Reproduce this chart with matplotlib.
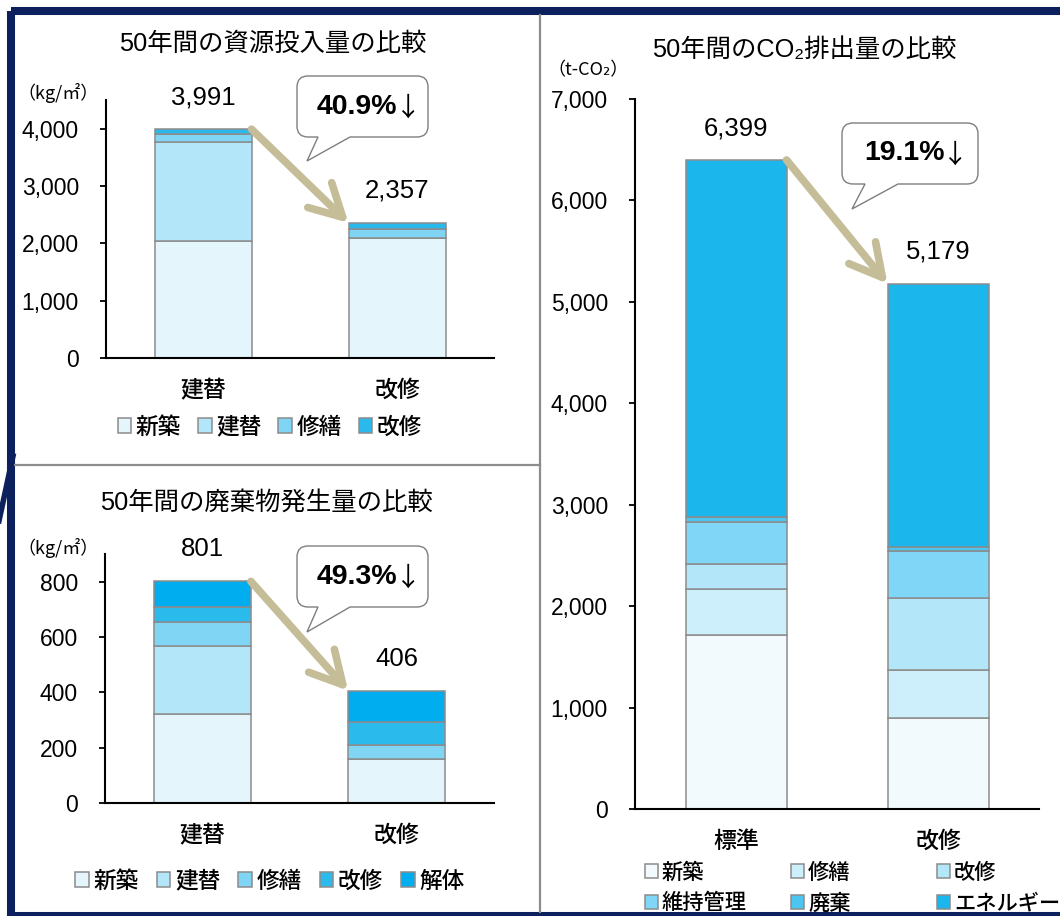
import matplotlib
matplotlib.use("Agg")
import matplotlib.pyplot as plt
import numpy as np
from matplotlib.path import Path
from matplotlib.patches import PathPatch, Rectangle
from matplotlib.transforms import Affine2D
from matplotlib.lines import Line2D
from matplotlib.text import Annotation

plt.rcParams['font.family'] = ['Liberation Sans', 'Noto Sans CJK JP', 'DejaVu Sans']

W, H = 1060, 916

# ---- 50年間の資源投入量 (kg/㎡) ----
res_groups = ['建替', '改修']
res_series = ['新築', '建替', '修繕', '改修']
res_shinchiku = [2035, 2100]
res_tatekae = [1725, 0]
res_shuzen = [150, 155]
res_kaishu = [81, 102]
res_colors = ['#E4F5FC', '#B3E6F8', '#80D5F5', '#2BB9EB']
res_yticks = [0, 1000, 2000, 3000, 4000]

# ---- 50年間の廃棄物発生量 (kg/㎡) ----
waste_groups = ['建替', '改修']
waste_series = ['新築', '建替', '修繕', '改修', '解体']
waste_shinchiku = [320, 159]
waste_tatekae = [246, 0]
waste_shuzen = [90, 50]
waste_kaishu = [53, 82]
waste_kaitai = [92, 115]
waste_colors = ['#E4F5FC', '#B3E6F8', '#80D5F5', '#2BBAEC', '#00AEEF']
waste_yticks = [0, 200, 400, 600, 800]

# ---- 50年間のCO2排出量 (t-CO2) ----
co2_groups = ['標準', '改修']
co2_series = ['新築', '修繕', '改修', '維持管理', '廃棄', 'エネルギー']
co2_shinchiku = [1713, 894]
co2_shuzen = [457, 481]
co2_kaishu = [246, 706]
co2_iji = [414, 460]
co2_haiki = [47, 40]
co2_energy = [3522, 2598]
co2_colors = ['#F2FAFD', '#CCEFFB', '#B3E6F8', '#80D6F6', '#4CC6F0', '#1BB7EC']
co2_yticks = [0, 1000, 2000, 3000, 4000, 5000, 6000, 7000]

EDGE = '#8C8C8C'
ARROW = '#C4BD97'
NAVY = '#0C205E'
JP = ['Noto Sans CJK JP', 'DejaVu Sans']

fig = plt.figure(figsize=(W / 100, H / 100), dpi=100)
fig.patch.set_facecolor('white')

# pixel (x right, y down) -> figure
pix = Affine2D().scale(1 / W, -1 / H).translate(0, 1) + fig.transFigure


def add_axes_px(left, top, right, bottom):
    return fig.add_axes([left / W, 1 - bottom / H, (right - left) / W, (bottom - top) / H])


def stacked(ax, groups, names, series, colors, ymax, yticks):
    x = np.arange(len(groups))
    bottom = np.zeros(len(groups))
    handles = []
    for name, vals, col in zip(names, series, colors):
        vals = np.asarray(vals, dtype=float)
        bc = ax.bar(x, vals, 0.5, bottom=bottom, color=col, edgecolor=EDGE,
                    linewidth=1.1, label=name, zorder=2)
        handles.append(bc)
        bottom = bottom + vals
    ax.set_xlim(-0.5, 1.5)
    ax.set_ylim(0, ymax)
    ax.set_yticks(yticks)
    ax.set_yticklabels([f'{t:,}' for t in yticks])
    ax.set_xticks(x)
    ax.set_xticklabels(groups)
    for s in ('top', 'right'):
        ax.spines[s].set_visible(False)
    for s in ('left', 'bottom'):
        ax.spines[s].set_linewidth(1.5)
        ax.spines[s].set_color('black')
    ax.tick_params(axis='y', length=4.5, width=1.3, direction='out', pad=15,
                   labelsize=16.5)
    ax.tick_params(axis='x', length=0, pad=15, labelsize=16.5)
    for lab in ax.get_xticklabels():
        lab.set_family(JP)
        lab.set_fontweight('medium')
    # totals above bars and the reduction arrow
    for i, tot in enumerate(bottom):
        ax.annotate(f'{int(round(tot)):,}', xy=(i, tot), xytext=(0, 23),
                    textcoords='offset points', ha='center', va='center',
                    fontsize=18.5)
    ax.annotate('', xy=(0.75, bottom[1]), xytext=(0.25, bottom[0]),
                arrowprops=dict(arrowstyle='->,head_length=1.15,head_width=0.62',
                                color=ARROW, lw=5.5, mutation_scale=20,
                                shrinkA=0, shrinkB=0), zorder=5)
    return handles, bottom


def bubble(x0, y0, x1, y1, bx0, bx1, tip, pct):
    r = 11
    tx, ty = tip
    verts = [(x0 + r, y0), (x1 - r, y0), (x1, y0), (x1, y0 + r), (x1, y1 - r),
             (x1, y1), (x1 - r, y1), (bx1, y1), (tx, ty), (bx0, y1), (x0 + r, y1),
             (x0, y1), (x0, y1 - r), (x0, y0 + r), (x0, y0), (x0 + r, y0), (0, 0)]
    codes = [Path.MOVETO, Path.LINETO, Path.CURVE3, Path.CURVE3, Path.LINETO,
             Path.CURVE3, Path.CURVE3, Path.LINETO, Path.LINETO, Path.LINETO,
             Path.LINETO, Path.CURVE3, Path.CURVE3, Path.LINETO, Path.CURVE3,
             Path.CURVE3, Path.CLOSEPOLY]
    patch = PathPatch(Path(verts, codes), facecolor='white', edgecolor='#7F7F7F',
                      linewidth=1.0, transform=pix, zorder=10)
    fig.add_artist(patch)
    cx, cy = (x0 + x1) / 2 - 6, (y0 + y1) / 2
    t = fig.text(cx, cy, f'{pct:.1f}%', transform=pix, ha='center', va='center',
                 fontsize=20.5, fontweight='bold', zorder=11)
    fig.add_artist(Annotation(
        '↓', xy=(1.0, 0.45), xycoords=t, xytext=(-1.5, 0), textcoords='offset points',
        ha='left', va='center', fontsize=19, zorder=11, family=JP))


def legend_px(handles, x, y, loc, ncol, size, **kw):
    return fig.legend(handles=handles, loc=loc, bbox_to_anchor=(x / W, 1 - y / H),
                      ncol=ncol, frameon=False, handlelength=0.6,
                      handleheight=0.6, handletextpad=0.2, borderpad=0,
                      borderaxespad=0,
                      prop={'family': JP, 'size': size, 'weight': 'medium'}, **kw)


# ---------- chart 1 ----------
ax1 = add_axes_px(106, 100, 494, 358)
h1, tot1 = stacked(ax1, res_groups, res_series,
                   [res_shinchiku, res_tatekae, res_shuzen, res_kaishu],
                   res_colors, 4500, res_yticks)
fig.text(273, 44, '50年間の資源投入量の比較', transform=pix, ha='center',
         va='center', fontsize=18.3)
fig.text(58, 93, '（kg/㎡）', transform=pix, ha='center', va='center',
         fontsize=13, family=JP)
legend_px(h1, 270, 427, 'center', 4, 16.3, columnspacing=0.75)
bubble(297, 76, 428, 137, 318, 350, (307, 161), (1 - tot1[1] / tot1[0]) * 100)

# ---------- chart 2 ----------
ax2 = add_axes_px(105, 554, 494, 803)
h2, tot2 = stacked(ax2, waste_groups, waste_series,
                   [waste_shinchiku, waste_tatekae, waste_shuzen, waste_kaishu,
                    waste_kaitai],
                   waste_colors, 900, waste_yticks)
fig.text(266, 503, '50年間の廃棄物発生量の比較', transform=pix, ha='center',
         va='center', fontsize=18.3)
fig.text(58, 548, '（kg/㎡）', transform=pix, ha='center', va='center',
         fontsize=13, family=JP)
legend_px(h2, 270, 881, 'center', 5, 16.3, columnspacing=0.8)
bubble(297, 546, 428, 607, 318, 350, (307, 632), (1 - tot2[1] / tot2[0]) * 100)

# ---------- chart 3 ----------
ax3 = add_axes_px(635, 99, 1039, 809)
h3, tot3 = stacked(ax3, co2_groups, co2_series,
                   [co2_shinchiku, co2_shuzen, co2_kaishu, co2_iji, co2_haiki,
                    co2_energy],
                   co2_colors, 7000, co2_yticks)
fig.text(804, 50, '50年間のCO₂排出量の比較', transform=pix, ha='center',
         va='center', fontsize=18.3)
fig.text(588, 70, '（t-CO₂）', transform=pix, ha='center', va='center',
         fontsize=13, family=JP)
for col, xpos in enumerate([645, 791, 937]):
    legend_px(h3[col::3], xpos, 888, 'center left', 1, 15.3, labelspacing=0.42)
bubble(842, 123, 978, 184, 865, 898, (852, 209), (1 - tot3[1] / tot3[0]) * 100)

# ---------- panel frame and dividers ----------
fig.add_artist(Line2D([540, 540], [15, 912], transform=pix, color='#8C8C8C',
                      linewidth=1.6))
fig.add_artist(Line2D([15, 540], [465, 465], transform=pix, color='#8C8C8C',
                      linewidth=1.6))
fig.add_artist(Rectangle((11, 11), 1070, 905, transform=pix, fill=False,
                         edgecolor=NAVY, linewidth=5.8, joinstyle='round'))
fig.add_artist(Line2D([13, -3], [456, 530], transform=pix, color=NAVY,
                      linewidth=4.0))

fig.savefig('out.png', dpi=100)
